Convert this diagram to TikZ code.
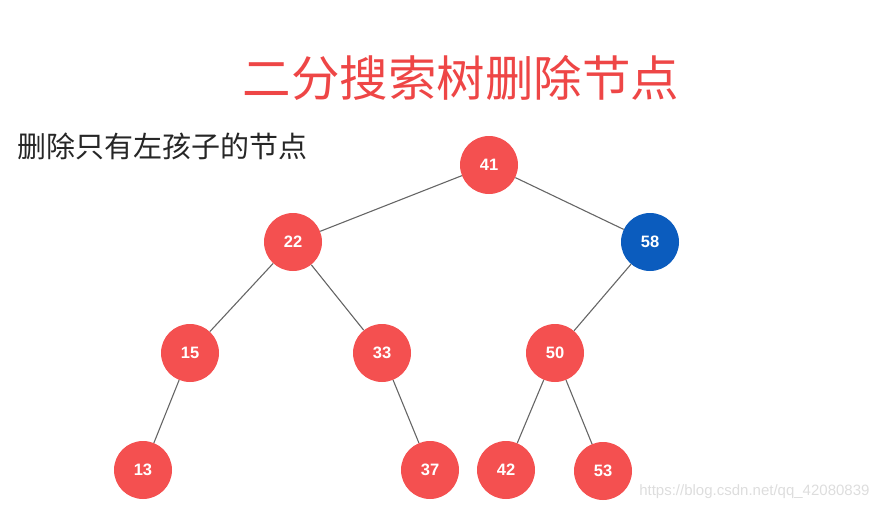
\documentclass[tikz,border=0pt]{standalone}
\usepackage{fontspec}
\setmainfont{Liberation Sans}
\newfontfamily\cjk{Noto Sans CJK SC}
\usetikzlibrary{arrows.meta}
\definecolor{nodered}{HTML}{F45050}
\definecolor{nodeblue}{HTML}{0B5CBE}
\definecolor{titlered}{HTML}{EE4646}
\definecolor{markgray}{HTML}{DDDDDD}

\begin{document}
\begin{tikzpicture}[x=1pt, y=-1pt, main/.style = {circle, fill=nodered, minimum size=58pt, inner sep=0pt, text=white, font=\fontsize{16.5}{16.5}\selectfont\bfseries}, gone/.style = {main, fill=nodeblue}]
            \useasboundingbox (0,0) rectangle (882,511);

            \node[font=\cjk\fontsize{48.5}{48.5}\selectfont, text=titlered] (title) at (461,78) {二分搜索树删除节点};
            \node[font=\cjk\fontsize{29}{29}\selectfont, text=black!85, anchor=west] (task) at (14,146) {删除只有左孩子的节点};

            \node[main] (n41) at (489,165) {41};

            \node[main] (n22) at (293,242) {22};
            \node[gone] (n58) at (650,242) {58};

            \node[main] (n15) at (190,353) {15};
            \node[main] (n33) at (382,353) {33};
            \node[main] (n50) at (555,353) {50};

            \node[main] (n13) at (143,470) {13};
            \node[main] (n37) at (430,470) {37};
            \node[main] (n42) at (506,470) {42};
            \node[main] (n53) at (603,471) {53};

            \path[draw=black!60, line width=1.1pt] (n41) edge (n22) edge (n58);
            \path[draw=black!60, line width=1.1pt] (n22) edge (n15) edge (n33);
            \path[draw=black!60, line width=1.1pt] (n58) edge (n50);
            \path[draw=black!60, line width=1.1pt] (n15) edge (n13);
            \path[draw=black!60, line width=1.1pt] (n33) edge (n37);
            \path[draw=black!60, line width=1.1pt] (n50) edge (n42) edge (n53);

            \node[font=\fontsize{15}{15}\selectfont, text=markgray, anchor=east] (mark) at (873,492) {https://blog.csdn.net/qq\_42080839};
        \end{tikzpicture}
\end{document}
